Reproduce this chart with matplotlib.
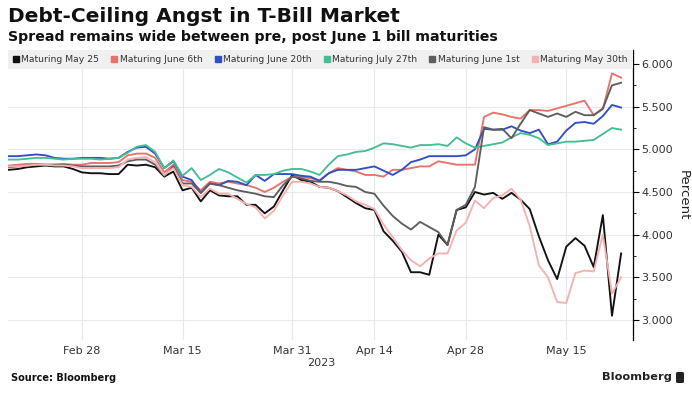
import matplotlib
matplotlib.use("Agg")
import matplotlib.pyplot as plt
from matplotlib.lines import Line2D
from matplotlib.patches import FancyBboxPatch
import pandas as pd

# ---------------- data ----------------
dates = pd.bdate_range("2023-02-15", "2023-05-23", freq="C",
                       holidays=["2023-02-20", "2023-04-07"])

may25 = [4.76, 4.77, 4.79, 4.80, 4.81, 4.80, 4.80, 4.77,
         4.73, 4.72, 4.72, 4.71, 4.71, 4.82, 4.81, 4.82, 4.79, 4.68,
         4.74, 4.52, 4.55, 4.39, 4.52, 4.46, 4.45, 4.45, 4.35, 4.35,
         4.25, 4.33, 4.52, 4.70, 4.64, 4.62, 4.56, 4.55, 4.51, 4.44,
         4.37, 4.31, 4.29, 4.04, 3.93, 3.80, 3.56, 3.56, 3.53, 4.00,
         3.88, 4.29, 4.32, 4.50, 4.47, 4.49, 4.42, 4.49, 4.41, 4.30,
         3.98, 3.70, 3.48, 3.86, 3.96, 3.87, 3.62, 4.23, 3.05, 3.78]

june6 = [4.81, 4.82, 4.83, 4.83, 4.82, 4.82, 4.83, 4.82,
         4.82, 4.84, 4.84, 4.84, 4.85, 4.93, 4.95, 4.95, 4.90, 4.73,
         4.82, 4.64, 4.62, 4.52, 4.62, 4.60, 4.62, 4.60, 4.58, 4.55,
         4.50, 4.55, 4.62, 4.68, 4.68, 4.66, 4.64, 4.72, 4.78, 4.76,
         4.74, 4.70, 4.70, 4.68, 4.76, 4.76, 4.78, 4.80, 4.80, 4.86,
         4.84, 4.82, 4.82, 4.82, 5.38, 5.43, 5.41, 5.38, 5.36, 5.46,
         5.46, 5.45, 5.48, 5.51, 5.54, 5.57, 5.40, 5.47, 5.89, 5.84]

june20 = [4.92, 4.92, 4.93, 4.94, 4.93, 4.90, 4.89, 4.89,
          4.90, 4.90, 4.90, 4.89, 4.90, 4.97, 5.02, 5.03, 4.95, 4.78,
          4.86, 4.68, 4.64, 4.49, 4.60, 4.58, 4.63, 4.62, 4.58, 4.70,
          4.63, 4.71, 4.71, 4.71, 4.69, 4.68, 4.63, 4.72, 4.76, 4.76,
          4.76, 4.78, 4.80, 4.75, 4.70, 4.76, 4.85, 4.88, 4.92, 4.92,
          4.92, 4.92, 4.93, 5.00, 5.24, 5.23, 5.23, 5.27, 5.22, 5.19,
          5.23, 5.06, 5.09, 5.22, 5.31, 5.32, 5.30, 5.39, 5.52, 5.49]

july27 = [4.88, 4.88, 4.89, 4.90, 4.90, 4.89, 4.88, 4.89,
          4.89, 4.89, 4.88, 4.89, 4.90, 4.96, 5.03, 5.05, 4.97, 4.78,
          4.87, 4.69, 4.78, 4.64, 4.70, 4.77, 4.73, 4.67, 4.61, 4.70,
          4.70, 4.71, 4.75, 4.77, 4.77, 4.74, 4.70, 4.82, 4.92, 4.94,
          4.97, 4.98, 5.02, 5.07, 5.06, 5.04, 5.02, 5.05, 5.05, 5.06,
          5.04, 5.14, 5.07, 5.02, 5.04, 5.06, 5.08, 5.14, 5.19, 5.17,
          5.13, 5.05, 5.07, 5.09, 5.09, 5.10, 5.11, 5.18, 5.25, 5.23]

june1 = [4.79, 4.80, 4.81, 4.82, 4.82, 4.82, 4.82, 4.81,
         4.80, 4.80, 4.80, 4.80, 4.81, 4.86, 4.88, 4.88, 4.82, 4.69,
         4.80, 4.60, 4.60, 4.49, 4.60, 4.58, 4.55, 4.52, 4.50, 4.48,
         4.45, 4.44, 4.58, 4.68, 4.66, 4.63, 4.62, 4.62, 4.60, 4.57,
         4.56, 4.50, 4.48, 4.34, 4.22, 4.13, 4.06, 4.15, 4.09, 4.03,
         3.88, 4.29, 4.35, 4.56, 5.26, 5.23, 5.24, 5.13, 5.30, 5.46,
         5.42, 5.38, 5.42, 5.38, 5.44, 5.40, 5.40, 5.48, 5.75, 5.78]

may30 = [4.80, 4.80, 4.81, 4.82, 4.82, 4.81, 4.81, 4.80,
         4.78, 4.78, 4.78, 4.78, 4.79, 4.88, 4.90, 4.91, 4.85, 4.70,
         4.78, 4.58, 4.56, 4.44, 4.54, 4.48, 4.48, 4.42, 4.36, 4.32,
         4.19, 4.28, 4.46, 4.62, 4.62, 4.60, 4.56, 4.55, 4.51, 4.46,
         4.39, 4.35, 4.30, 4.12, 3.97, 3.82, 3.70, 3.63, 3.72, 3.78,
         3.78, 4.05, 4.14, 4.40, 4.31, 4.43, 4.46, 4.54, 4.41, 4.10,
         3.64, 3.50, 3.21, 3.20, 3.55, 3.58, 3.57, 4.00, 3.31, 3.50]

series_names = ["Maturing May 25", "Maturing June 6th", "Maturing June 20th",
                "Maturing July 27th", "Maturing June 1st", "Maturing May 30th"]
series_values = [may25, june6, june20, july27, june1, may30]
series_colors = ["#111111", "#e5736b", "#2f50c4", "#45bd95", "#5e5e5e", "#f5b1b1"]

tick_dates = ["2023-02-28", "2023-03-15", "2023-03-31",
              "2023-04-14", "2023-04-28", "2023-05-15"]
tick_labels = ["Feb 28", "Mar 15", "Mar 31", "Apr 14", "Apr 28", "May 15"]
y_ticks = [3.0, 3.5, 4.0, 4.5, 5.0, 5.5, 6.0]

# ---------------- figure ----------------
W, H = 692, 394
fig = plt.figure(figsize=(W / 100, H / 100), dpi=100)
fig.patch.set_facecolor("white")
ax = fig.add_axes([8 / W, 54 / H, 625 / W, 290 / H])

# x positions: business-day index relative to Feb 28
origin = dates.get_loc(pd.Timestamp("2023-02-28"))
xs = [i - origin for i in range(len(dates))]

for name, vals, col in zip(series_names, series_values, series_colors):
    ax.plot(xs, vals, color=col, lw=1.35, label=name, solid_joinstyle="round")

ax.set_xlim(-8.1, 60.3)
ax.set_ylim(2.766, 6.164)

tick_pos = [dates.get_loc(pd.Timestamp(d)) - origin for d in tick_dates]
ax.set_xticks(tick_pos)
ax.set_xticklabels(tick_labels)
ax.set_yticks(y_ticks)
ax.set_yticklabels([f"{v:.3f}" for v in y_ticks])
ax.set_yticks([3.25, 3.75, 4.25, 4.75, 5.25, 5.75], minor=True)

ax.yaxis.tick_right()
ax.yaxis.set_label_position("right")
ax.tick_params(axis="y", which="major", direction="out", length=4, width=0.8,
               colors="#000000", labelcolor="#333333", labelsize=8, pad=2)
ax.tick_params(axis="y", which="minor", direction="out", length=2, width=0.6,
               colors="#000000")
ax.tick_params(axis="x", length=0, labelsize=8, labelcolor="#333333", pad=4)
ax.set_ylabel("Percent", rotation=270, labelpad=12, fontsize=9.5, color="#222222")

for s in ["top", "left", "bottom"]:
    ax.spines[s].set_visible(False)
ax.spines["right"].set_color("#000000")
ax.spines["right"].set_linewidth(0.9)

ax.grid(True, which="major", color="#e9e9e9", lw=0.8)
ax.set_axisbelow(True)

# legend band
handles = [Line2D([], [], marker="s", ls="none", color=c, markersize=5)
           for c in series_colors]
leg = ax.legend(handles, series_names, ncol=6, mode="expand",
                loc="upper left", bbox_to_anchor=(0, 1, 1, 0),
                borderaxespad=0, frameon=True, fancybox=False,
                fontsize=6.7, handlelength=0.6, handletextpad=0.3,
                borderpad=0.55, columnspacing=0.8)
leg.get_frame().set_facecolor("#f0f0f0")
leg.get_frame().set_edgecolor("none")
leg.get_frame().set_alpha(1)
for t in leg.get_texts():
    t.set_color("#333333")

# texts
fig.text(8 / W, 1 - 17 / H, "Debt-Ceiling Angst in T-Bill Market",
         fontsize=14.5, fontweight="bold", color="#111111", va="center", ha="left")
fig.text(8 / W, 1 - 37 / H, "Spread remains wide between pre, post June 1 bill maturities",
         fontsize=10.2, fontweight="bold", color="#111111", va="center", ha="left")
fig.text(321 / W, 1 - 363 / H, "2023", fontsize=8, color="#333333",
         ha="center", va="center")
fig.text(11 / W, 1 - 378 / H, "Source: Bloomberg", fontsize=7, fontweight="bold",
         color="#111111", ha="left", va="center")
fig.text(672 / W, 1 - 377 / H, "Bloomberg", fontsize=8.2, fontweight="bold",
         color="#222222", ha="right", va="center")
fig.patches.append(FancyBboxPatch((676 / W, 1 - 383 / H), 8 / W, 11 / H,
                                  boxstyle="round,pad=0,rounding_size=0.003",
                                  transform=fig.transFigure, facecolor="#222222",
                                  edgecolor="none"))

fig.savefig("out.png", dpi=100)
